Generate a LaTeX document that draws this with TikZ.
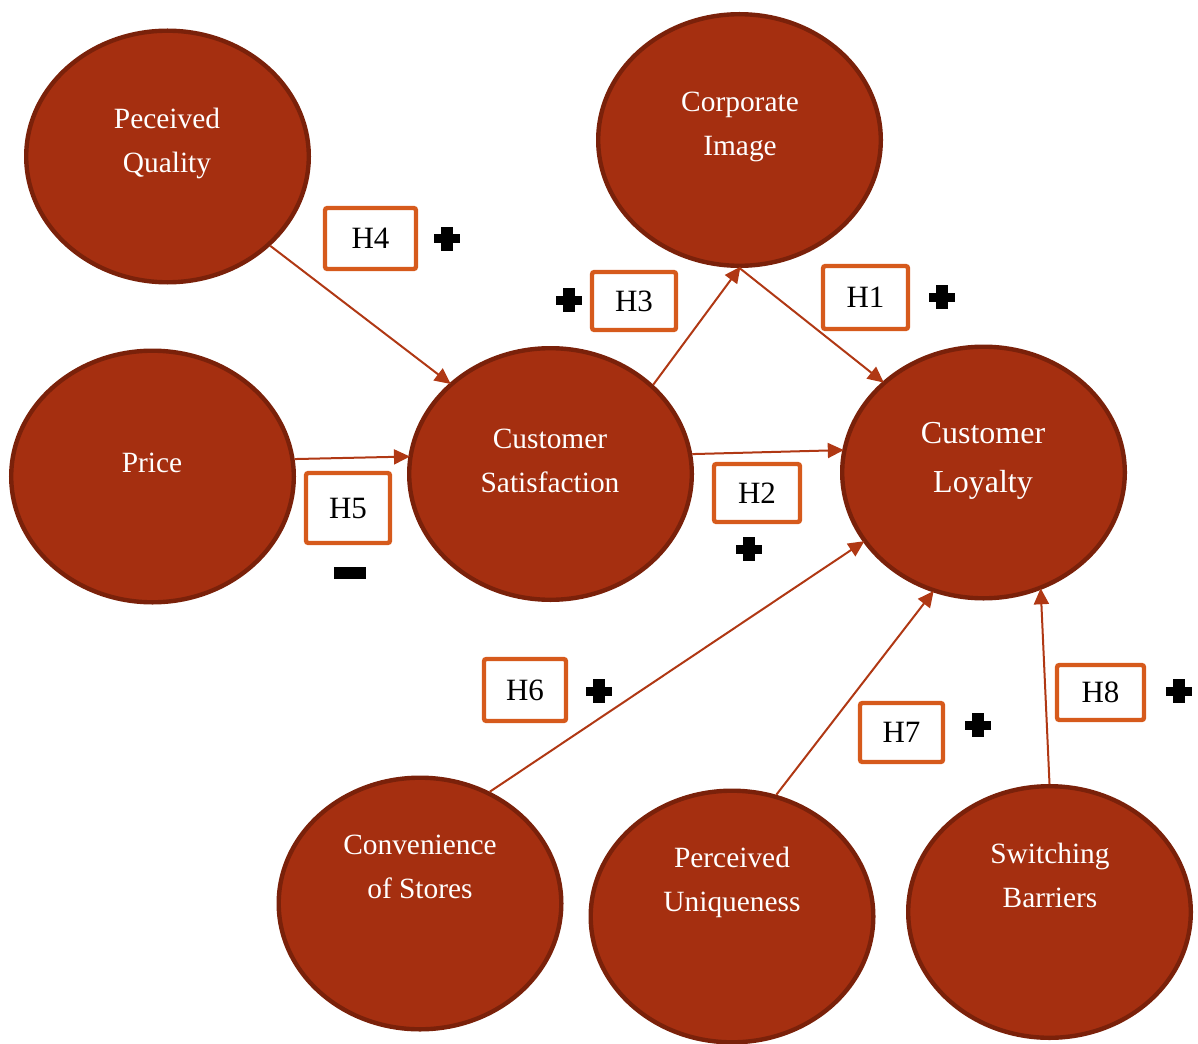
\documentclass[tikz,border=0pt]{standalone}
\usepackage{fontspec}
\setmainfont{Liberation Serif}
\usetikzlibrary{shapes.geometric,arrows.meta,calc}
\definecolor{efill}{RGB}{165,47,16}
\definecolor{edraw}{RGB}{122,33,10}
\definecolor{arr}{RGB}{176,56,20}
\definecolor{borange}{RGB}{214,90,28}
\tikzset{
 construct/.style={ellipse, fill=efill, draw=edraw, line width=2.2pt, minimum width=141.3pt, minimum height=125.8pt, inner sep=0pt},
 ctext/.style={text=white, align=center, font=\fontsize{14.7}{22}\selectfont, inner sep=0pt},
 bigtext/.style={ctext, font=\fontsize{16}{24.5}\selectfont},
 hyp/.style={draw=borange, line width=2.2pt, rounded corners=1.2pt, fill=white, inner sep=0pt, font=\fontsize{15.5}{18}\selectfont},
 link/.style={draw=arr, line width=1pt, -{Triangle[length=8pt,width=7.5pt]}, shorten >=-0.8pt},
 plussign/.pic={\fill[black] (-13,-4.5) rectangle (13,4.5); \fill[black] (-6,-12) rectangle (6,12);}
}
\begin{document}
\begin{tikzpicture}[x=0.5pt,y=-0.5pt]
\useasboundingbox (0,0) rectangle (1198,1043);
% constructs
\node[construct] (pq) at (167.5,156.5) {};
\node[construct] (ci) at (739.5,140) {};
\node[construct] (price) at (152.5,476.5) {};
\node[construct] (cs) at (550.5,474) {};
\node[construct] (cl) at (983.5,472.5) {};
\node[construct] (conv) at (420,903.5) {};
\node[construct] (pu) at (732,916.5) {};
\node[construct] (sb) at (1049.5,912) {};
% texts
\node[ctext] (pqt) at (167,143) {Peceived\\Quality};
\node[ctext] (cit) at (740,127) {Corporate\\Image};
\node[ctext] (pricet) at (152,463) {Price};
\node[ctext] (cst) at (550,461) {Customer\\Satisfaction};
\node[bigtext] (clt) at (983,461) {Customer\\Loyalty};
\node[ctext] (convt) at (420,867) {Convenience\\of Stores};
\node[ctext] (put) at (732,882) {Perceived\\Uniqueness};
\node[ctext] (sbt) at (1050,875) {Switching\\Barriers};
% connectors
\draw[link] (pq.-41.5) -- (cs.138.1);
\draw[link] (price.7) -- (cs.173.1);
\draw[link] (cs.41.9) -- (ci.south);
\draw[link] (ci.south) -- (cl.138);
\draw[link] (cs.8.7) -- (cl.171.4);
\draw[link] (conv.58.1) -- (cl.-150.2);
\draw[link] (pu.70.1) -- (cl.-113.9);
\draw[link] (sb.north) -- (cl.-64.3);
% hypothesis boxes
\node[hyp, minimum width=45.5pt, minimum height=30.5pt] (h4) at (370.5,238.5) {H4};
\node[hyp, minimum width=42pt, minimum height=29pt] (h3) at (634,301) {H3};
\node[hyp, minimum width=42.5pt, minimum height=31.5pt] (h1) at (865.5,297.5) {H1};
\node[hyp, minimum width=42pt, minimum height=35pt] (h5) at (348,508) {H5};
\node[hyp, minimum width=43pt, minimum height=29pt] (h2) at (757,493) {H2};
\node[hyp, minimum width=41pt, minimum height=31pt] (h6) at (525,690) {H6};
\node[hyp, minimum width=41.5pt, minimum height=29.5pt] (h7) at (901.5,732.5) {H7};
\node[hyp, minimum width=43.5pt, minimum height=27.5pt] (h8) at (1100.5,692.5) {H8};
% signs
\pic at (447,239) {plussign};
\pic at (569,300) {plussign};
\pic at (942,297) {plussign};
\pic at (749,549) {plussign};
\pic at (599,691) {plussign};
\pic at (978,725) {plussign};
\pic at (1179,691) {plussign};
\fill[black] (334,567) rectangle (366,579);
\end{tikzpicture}
\end{document}
